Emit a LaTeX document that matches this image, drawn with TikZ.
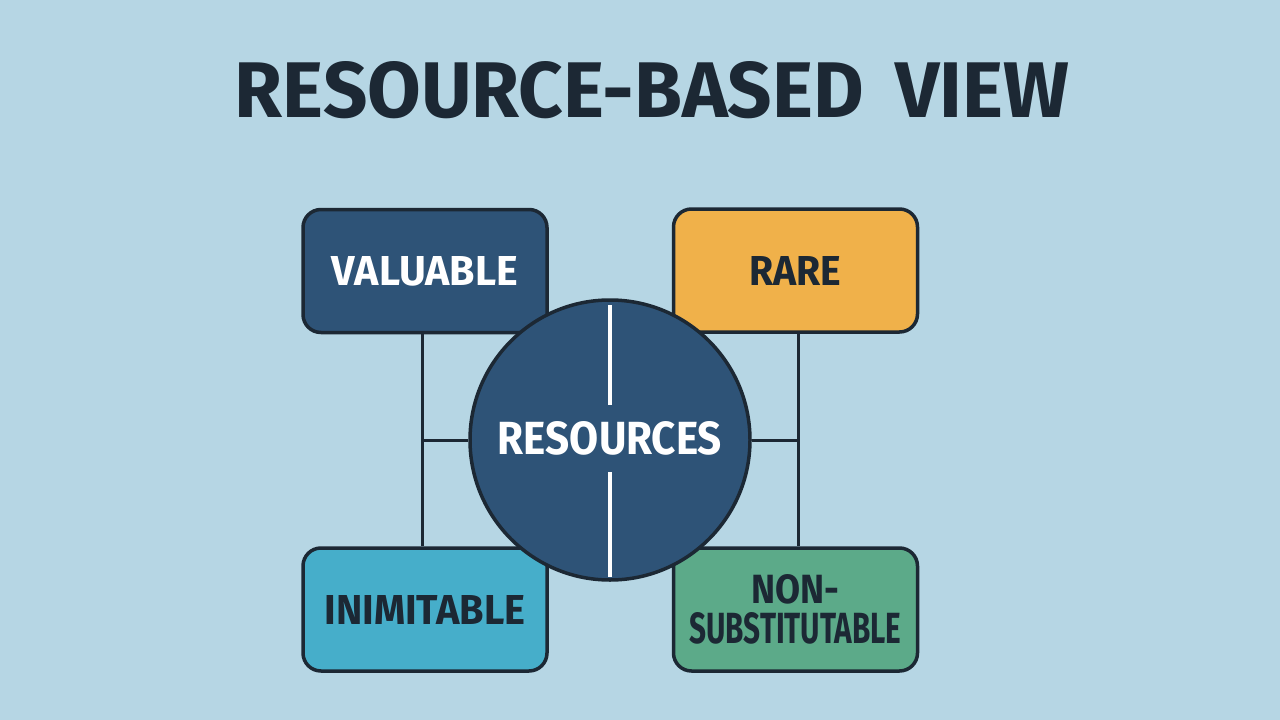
\documentclass[tikz,border=0pt]{standalone}
\usepackage{fontspec}
\setmainfont{Fira Sans}
\usepackage{graphicx}
\definecolor{bgc}{RGB}{182,214,228}
\definecolor{ink}{RGB}{28,40,52}
\definecolor{navy}{RGB}{46,83,119}
\definecolor{orng}{RGB}{240,177,74}
\definecolor{teal}{RGB}{70,174,202}
\definecolor{grn}{RGB}{92,170,137}
\tikzset{
  card/.style={draw=ink, line width=3.5pt, rounded corners=18pt, minimum width=244pt, minimum height=123pt, inner sep=0pt, align=center, font=\fontsize{30}{40}\selectfont\bfseries},
  link/.style={draw=ink, line width=3pt},
  split/.style={draw=white, line width=4pt}
}
\begin{document}
\begin{tikzpicture}[x=1pt,y=-1pt]
\fill[bgc] (0,0) rectangle (1280,720);
\useasboundingbox (0,0) rectangle (1280,720);
\node[text=ink, inner sep=0pt] (title) at (652,90) {\resizebox{834pt}{56pt}{\bfseries RESOURCE-BASED\ \,VIEW}};
\node[card, fill=navy, text=white] (val) at (425,271) {\resizebox{186pt}{29pt}{VALUABLE}};
\node[card, fill=orng, text=ink] (rare) at (795.5,270.5) {\resizebox{92pt}{29pt}{RARE}};
\node[card, fill=teal, text=ink] (inim) at (425,609.5) {\resizebox{201pt}{29pt}{INIMITABLE}};
\node[card, fill=grn, text=ink] (nons) at (795.5,609.5) {\resizebox{88pt}{29pt}{NON-}\\\resizebox{212pt}{31pt}{SUBSTITUTABLE}};
\node[circle, draw=ink, line width=3.5pt, fill=navy, minimum size=280pt, inner sep=0pt] (res) at (610,440) {};
\coordinate (jl) at (422,440);
\coordinate (jr) at (798,440);
\draw[link] (val.south -| jl) -- (inim.north -| jl);
\draw[link] (rare.south -| jr) -- (nons.north -| jr);
\draw[link] (jl) -- (res.west);
\draw[link] (res.east) -- (jr);
\coordinate (st) at (610,305);
\coordinate (sb) at (610,405);
\coordinate (st2) at (610,472);
\coordinate (sb2) at (610,577);
\draw[split] (st) -- (sb);
\draw[split] (st2) -- (sb2);
\node[text=white, inner sep=0pt] (lab) at (610,438.5) {\resizebox{224pt}{33pt}{\bfseries RESOURCES}};
\end{tikzpicture}
\end{document}
